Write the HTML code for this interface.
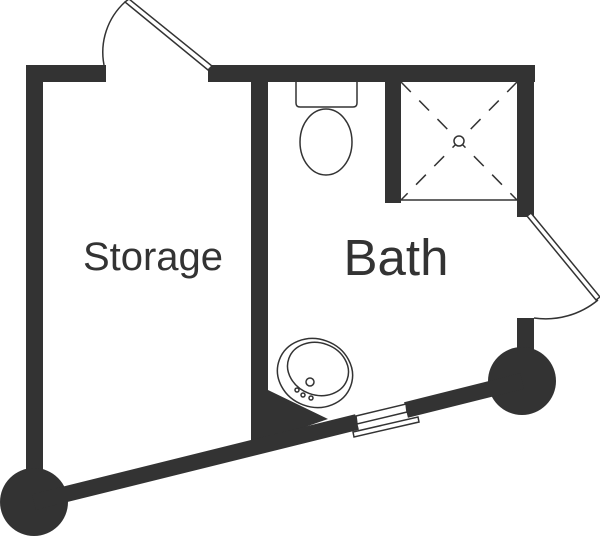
<!DOCTYPE html>
<html><head><style>body{margin:0;background:#fff}svg{display:block}</style></head><body>
<svg width="600" height="536" viewBox="0 0 600 536" xmlns="http://www.w3.org/2000/svg">
<g fill="#333">
<rect x="26" y="65" width="80" height="17"/>
<rect x="26" y="65" width="17" height="420"/>
<rect x="208" y="65" width="327" height="17"/>
<rect x="251" y="65" width="17" height="380"/>
<rect x="385" y="65" width="16" height="138"/>
<rect x="517" y="65" width="17" height="152"/>
<rect x="517" y="318" width="17" height="50"/>
<circle cx="34" cy="502" r="34"/>
<circle cx="522" cy="381" r="34"/>
<polygon points="268,390 328,419 268,440"/>
</g>
<g stroke="#333" stroke-width="16" fill="none">
<line x1="34" y1="502" x2="357" y2="422"/>
<line x1="406" y1="410" x2="522" y2="381"/>
</g>
<g stroke="#333" stroke-width="1.5" fill="#fff">
<polygon points="356,416 406,404 407,412 357,424"/>
<polygon points="353,432 418,417 419,422 354,437"/>
</g>
<g stroke="#333" stroke-width="1.5" fill="none">
<path d="M104,65 A68,68 0 0 1 125,2"/>
<polygon points="125,2 129,-1 212,66 208,70" fill="#fff"/>
<polygon points="527,216 531,213 600,297 596,300" fill="#fff"/>
<path d="M598,300 A82,82 0 0 1 534,318"/>
<line x1="401" y1="200" x2="517" y2="200"/>
<path d="M296,82 V103 Q296,107 300,107 H353 Q357,107 357,103 V82" fill="#fff"/>
<ellipse cx="326" cy="142" rx="26" ry="33" fill="#fff"/>
<line x1="401" y1="82" x2="517" y2="200" stroke-dasharray="14,12"/>
<line x1="517" y1="82" x2="401" y2="200" stroke-dasharray="14,12"/>
<circle cx="459" cy="141" r="5" fill="#fff"/>
<ellipse cx="315" cy="373" rx="38" ry="34" transform="rotate(20 315 373)" fill="#fff"/>
<ellipse cx="318" cy="369" rx="31" ry="26" transform="rotate(20 318 369)"/>
<circle cx="310" cy="382" r="4"/>
<circle cx="297" cy="390" r="2"/>
<circle cx="303" cy="395" r="2"/>
<circle cx="311" cy="398" r="2"/>
</g>
<text x="153" y="270" font-family="Liberation Sans, sans-serif" font-size="40" fill="#333" text-anchor="middle">Storage</text>
<text x="396" y="275" font-family="Liberation Sans, sans-serif" font-size="51" fill="#333" text-anchor="middle">Bath</text>
</svg>
</body></html>
